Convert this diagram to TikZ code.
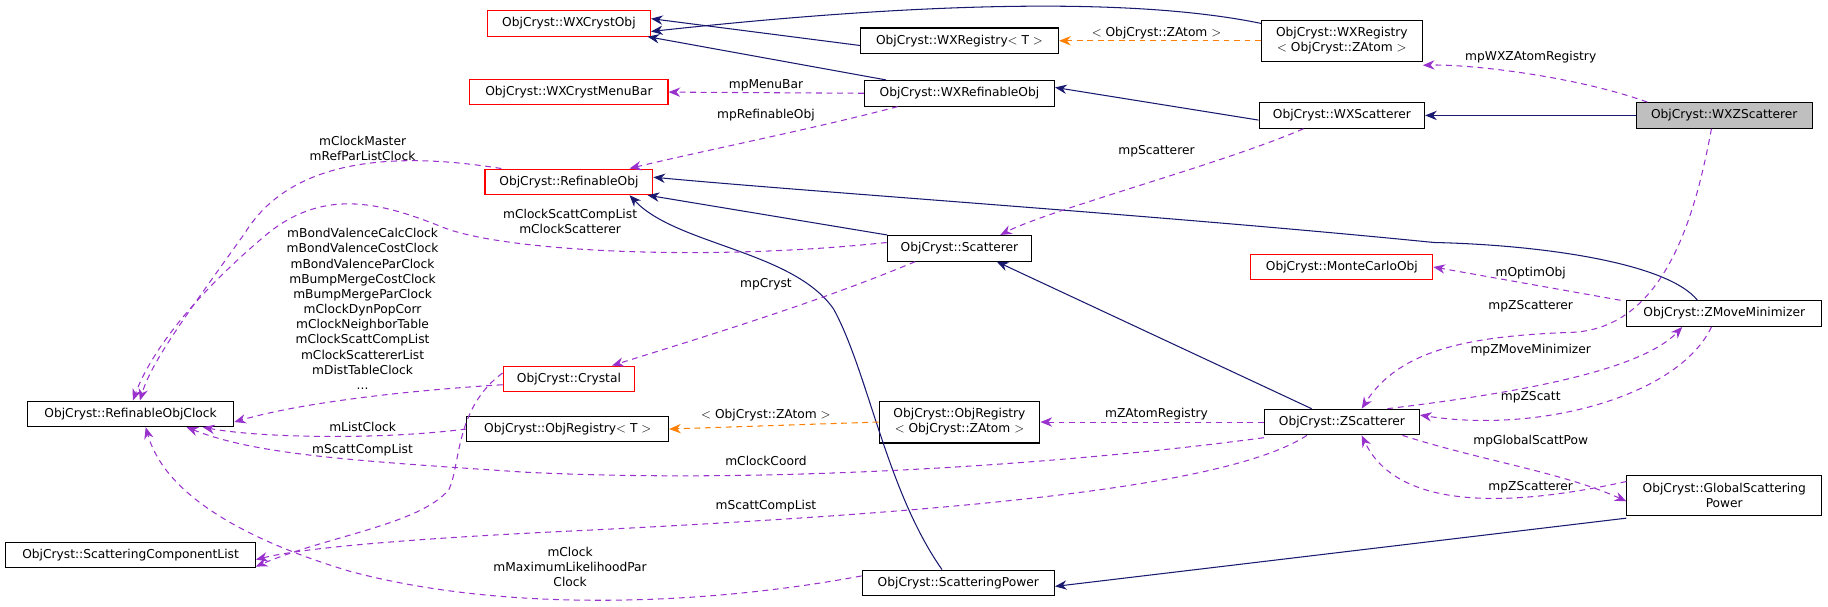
\documentclass[tikz,border=0pt]{standalone}
\usepackage{fontspec}
\setmainfont{DejaVu Sans}
\usetikzlibrary{arrows.meta}
\begin{document}
\begin{tikzpicture}[x=1pt,y=-1pt,
 every node/.style={font=\fontsize{10.5}{13}\selectfont},
 box/.style={draw=black,fill=white,inner sep=0pt,minimum height=22pt,align=center,line width=0.9pt},
 rbox/.style={box,draw=red},
 inh/.style={draw={rgb,255:red,25;green,25;blue,112},line width=0.9pt,-{Stealth[length=10pt,width=8pt]}},
 use/.style={draw={rgb,255:red,153;green,50;blue,204},dash pattern=on 5pt off 4pt,line width=0.9pt,-{Stealth[length=10pt,width=8pt]}},
 tpl/.style={draw=orange,dash pattern=on 5pt off 4pt,line width=0.9pt,-{Stealth[length=10pt,width=8pt]}},
 lbl/.style={font=\fontsize{10.5}{13}\selectfont,align=center,inner sep=0pt}]
\useasboundingbox (0,0) rectangle (1568,520);
\node[rbox,minimum width=140pt] (wxc) at (488,20) {ObjCryst::WXCrystObj};
\node[box,minimum width=170pt] (wxrt) at (823,35) {ObjCryst::WXRegistry$<$ T $>$};
\node[box,minimum width=138pt,minimum height=35pt] (wxrz) at (1151,35) {ObjCryst::WXRegistry\\$<$ ObjCryst::ZAtom $>$};
\node[rbox,minimum width=170pt] (menu) at (488,79) {ObjCryst::WXCrystMenuBar};
\node[box,minimum width=163pt] (wxro) at (823,80) {ObjCryst::WXRefinableObj};
\node[box,minimum width=142pt] (wxs) at (1151,99) {ObjCryst::WXScatterer};
\node[box,minimum width=151pt,fill={rgb,255:red,191;green,191;blue,191}] (wxz) at (1479,99) {ObjCryst::WXZScatterer};
\node[rbox,minimum width=144pt] (ro) at (488,156) {ObjCryst::RefinableObj};
\node[box,minimum width=124pt] (sc) at (823,213) {ObjCryst::Scatterer};
\node[rbox,minimum width=156pt] (mc) at (1151,229) {ObjCryst::MonteCarloObj};
\node[box,minimum width=167pt] (zmm) at (1479,269) {ObjCryst::ZMoveMinimizer};
\node[rbox,minimum width=113pt] (cry) at (488,325) {ObjCryst::Crystal};
\node[box,minimum width=177pt] (clk) at (112,355) {ObjCryst::RefinableObjClock};
\node[box,minimum width=173pt] (ort) at (487,368) {ObjCryst::ObjRegistry$<$ T $>$};
\node[box,minimum width=138pt,minimum height=36pt] (orz) at (823,362) {ObjCryst::ObjRegistry\\$<$ ObjCryst::ZAtom $>$};
\node[box,minimum width=133pt] (zs) at (1151,362) {ObjCryst::ZScatterer};
\node[box,minimum width=167pt,minimum height=34pt] (gsp) at (1479,425) {ObjCryst::GlobalScattering\\Power};
\node[box,minimum width=214pt] (scl) at (112,476) {ObjCryst::ScatteringComponentList};
\node[box,minimum width=165pt] (sp) at (822,500) {ObjCryst::ScatteringPower};

% inheritance
\draw[inh] ([yshift=-3pt]wxrz.north west) .. controls (960,-5) and (760,5) .. ([yshift=-7pt]wxc.east);
\draw[inh] ([yshift=-4pt]wxrt.west) -- ([yshift=4pt]wxc.east);
\draw[inh] ([xshift=-63pt]wxro.north) -- ([xshift=-3pt]wxc.south east);
\draw[inh] ([yshift=-4pt]wxs.west) -- ([yshift=5pt]wxro.east);
\draw[inh] (wxz.west) -- (wxs.east);
\draw[inh] ([xshift=-62pt]sc.north) -- ([xshift=-5pt]ro.south east);
\draw[inh] ([xshift=-23pt]zmm.north) .. controls (1430,225) and (1320,210) .. (1230,208) .. controls (1000,185) and (700,165) .. ([yshift=4pt]ro.east);
\draw[inh] ([xshift=-14pt]sp.north) .. controls (760,420) and (745,320) .. (715,265) .. controls (680,215) and (580,210) .. ([xshift=52pt]ro.south);
\draw[inh] ([xshift=-26pt]zs.north) -- ([xshift=32pt]sc.south);
\draw[inh] ([yshift=-2pt]gsp.south west) -- ([yshift=-3pt]sp.east);
% templates
\draw[tpl] (wxrz.west) -- (wxrt.east);
\node[lbl] at (992,28) {$<$ ObjCryst::ZAtom $>$};
\draw[tpl] (orz.west) -- (ort.east);
\node[lbl] at (657,356) {$<$ ObjCryst::ZAtom $>$};
% usage
\draw[use] ([xshift=-66pt]wxz.north) .. controls (1350,65) and (1260,55) .. ([yshift=-3pt]wxrz.south east);
\node[lbl] at (1313,49) {mpWXZAtomRegistry};
\draw[use] (wxro.west) -- (menu.east);
\node[lbl] at (657,73) {mpMenuBar};
\draw[use] ([xshift=-53pt]wxro.south) .. controls (700,110) and (600,130) .. ([xshift=52pt]ro.north);
\node[lbl] at (657,99) {mpRefinableObj};
\draw[use] ([xshift=-58pt]ro.north) .. controls (340,130) and (250,135) .. (210,200) .. controls (160,270) and (130,310) .. ([xshift=8pt]clk.north);
\node[lbl] at (311,127) {mClockMaster\\mRefParListClock};
\draw[use] ([yshift=5pt]sc.west) .. controls (600,225) and (430,215) .. (380,195) .. controls (330,175) and (280,160) .. (230,200) .. controls (170,250) and (130,300) .. ([xshift=2pt]clk.north);
\node[lbl] at (489,190) {mClockScattCompList\\mClockScatterer};
\draw[use] ([xshift=-33pt]wxs.south) .. controls (1050,140) and (900,180) .. ([xshift=35pt]sc.north);
\node[lbl] at (992,130) {mpScatterer};
\draw[use] ([xshift=-38pt]sc.south) .. controls (700,260) and (600,290) .. ([xshift=37pt]cry.north);
\node[lbl] at (657,244) {mpCryst};
\draw[use] ([yshift=-5pt]cry.west) .. controls (350,335) and (260,345) .. ([yshift=-7pt]clk.east);
\node[lbl] at (311,265) {mBondValenceCalcClock\\mBondValenceCostClock\\mBondValenceParClock\\mBumpMergeCostClock\\mBumpMergeParClock\\mClockDynPopCorr\\mClockNeighborTable\\mClockScattCompList\\mClockScattererList\\mDistTableClock\\...};
\draw[use] ([yshift=5pt]cry.west) .. controls (390,350) and (395,400) .. (385,420) .. controls (360,450) and (280,460) .. ([yshift=-10pt]scl.east);
\draw[use] (ort.west) .. controls (320,378) and (220,375) .. ([xshift=62pt]clk.south);
\node[lbl] at (311,366) {mListClock};
\node[lbl] at (311,386) {mScattCompList};
\draw[use] ([yshift=-2pt]zs.south west) .. controls (900,400) and (650,415) .. (450,405) .. controls (300,395) and (220,390) .. ([xshift=48pt]clk.south);
\node[lbl] at (657,395) {mClockCoord};
\draw[use] (zs.west) -- (orz.east);
\node[lbl] at (992,355) {mZAtomRegistry};
\draw[use] ([xshift=-30pt]zs.south) .. controls (1050,420) and (800,440) .. (500,455) .. controls (350,462) and (260,470) .. ([yshift=-4pt]scl.east);
\node[lbl] at (657,434) {mScattCompList};
\draw[use] ([yshift=6pt]sp.west) .. controls (600,520) and (430,525) .. (300,490) .. controls (200,460) and (140,420) .. ([xshift=13pt]clk.south);
\node[lbl] at (489,486) {mClock\\mMaximumLikelihoodPar\\Clock};
\draw[use] ([xshift=-11pt]wxz.south) .. controls (1455,180) and (1430,280) .. (1350,285) .. controls (1260,288) and (1200,300) .. ([xshift=17pt]zs.north);
\node[lbl] at (1313,263) {mpZScatterer};
\draw[use] ([xshift=-89pt]zmm.north) -- (mc.east);
\node[lbl] at (1313,234) {mOptimObj};
\draw[use] ([xshift=39pt]zs.north) .. controls (1320,335) and (1410,315) .. ([xshift=-36pt]zmm.south);
\node[lbl] at (1313,300) {mpZMoveMinimizer};
\draw[use] ([xshift=-11pt]zmm.south) .. controls (1440,340) and (1320,372) .. ([yshift=6pt]zs.east);
\node[lbl] at (1313,341) {mpZScatt};
\draw[use] ([xshift=-15pt]zs.south east) .. controls (1270,395) and (1340,405) .. ([yshift=-5pt]gsp.west);
\node[lbl] at (1313,378) {mpGlobalScattPow};
\draw[use] ([yshift=12pt]gsp.west) .. controls (1250,445) and (1190,420) .. ([xshift=17pt]zs.south);
\node[lbl] at (1313,418) {mpZScatterer};
\end{tikzpicture}
\end{document}
